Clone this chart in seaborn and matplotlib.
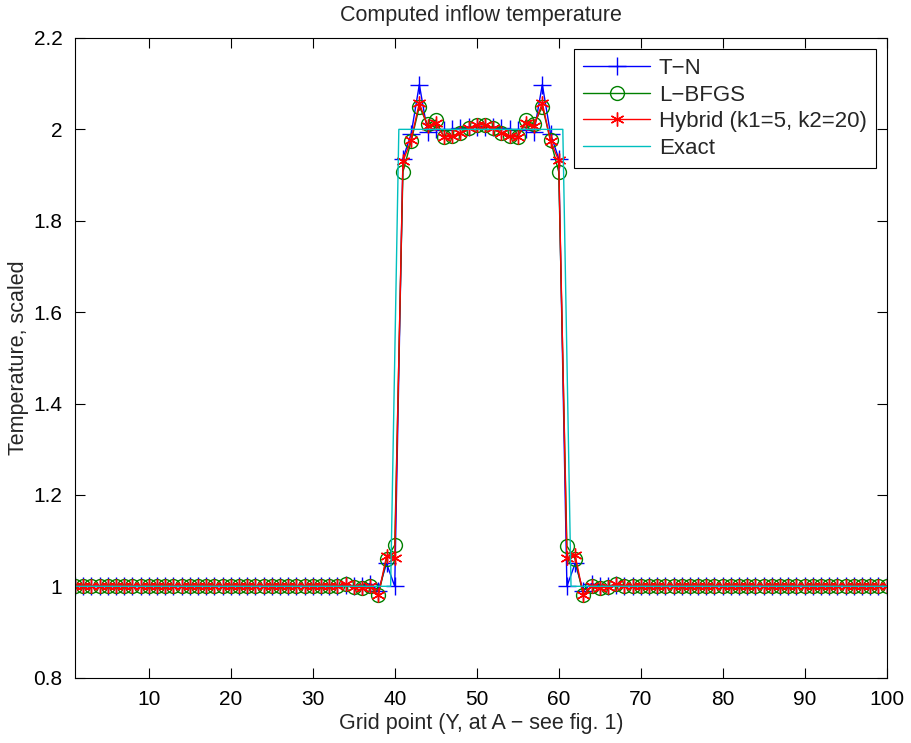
import matplotlib
matplotlib.use("Agg")
import matplotlib.pyplot as plt
import seaborn as sns
import numpy as np

grid = list(range(1, 101))

flat_left = [1.0] * 33
flat_right = [1.0] * 33

tn_mid = [1.002, 1.0, 1.0, 1.006, 0.99, 1.05, 1.0,
          1.936, 1.99, 2.098, 1.995, 2.0, 1.998, 2.0, 2.003, 2.005, 2.006,
          2.006, 2.005, 2.003, 2.0, 1.998, 2.0, 1.995, 2.098, 1.99, 1.936,
          1.0, 1.05, 0.99, 1.006, 1.0, 1.0, 1.002]
lbfgs_mid = [1.006, 0.998, 0.997, 1.0, 0.98, 1.06, 1.09,
             1.907, 1.974, 2.05, 2.011, 2.02, 1.984, 1.985, 1.992, 2.002, 2.01,
             2.01, 2.002, 1.992, 1.985, 1.984, 2.02, 2.011, 2.05, 1.976, 1.907,
             1.088, 1.06, 0.98, 1.0, 0.997, 0.998, 1.006]
hybrid_mid = [1.006, 0.998, 0.997, 1.0, 0.981, 1.066, 1.061,
              1.93, 1.977, 2.058, 2.007, 2.015, 1.983, 1.985, 1.992, 2.002, 2.01,
              2.01, 2.002, 1.992, 1.985, 1.983, 2.015, 2.008, 2.058, 1.974, 1.932,
              1.062, 1.068, 0.981, 1.0, 0.997, 0.998, 1.006]

tn = flat_left + tn_mid + flat_right
lbfgs = flat_left + lbfgs_mid + flat_right
hybrid = flat_left + hybrid_mid + flat_right

exact_x = [1, 39.5, 40.5, 60.5, 61.5, 100]
exact_y = [1, 1, 2, 2, 1, 1]

xticks = [10, 20, 30, 40, 50, 60, 70, 80, 90, 100]
yticks = [0.8, 1.0, 1.2, 1.4, 1.6, 1.8, 2.0, 2.2]
yticklabels = ["0.8", "1", "1.2", "1.4", "1.6", "1.8", "2", "2.2"]

sns.set_style("white")
plt.rcParams['font.family'] = ['Liberation Sans', 'DejaVu Sans']
plt.rcParams['font.size'] = 15

fig = plt.figure(figsize=(9.11, 7.43), dpi=100)
ax = fig.add_axes([0.0823, 0.0879, 0.891, 0.861])

BLUE = (0, 0, 1)
GREEN = (0, 0.5, 0)
RED = (1, 0, 0)
CYAN = (0, 0.75, 0.75)

common = dict(ax=ax, estimator=None, sort=False, linewidth=1.0)
sns.lineplot(x=grid, y=tn, color=BLUE, marker='+', markersize=13,
             markeredgewidth=1.0, markeredgecolor=BLUE, label="T−N", **common)
sns.lineplot(x=grid, y=lbfgs, color=GREEN, marker='o', markersize=10,
             markerfacecolor='none', markeredgecolor=GREEN,
             markeredgewidth=1.0, label="L−BFGS", **common)
sns.lineplot(x=grid, y=hybrid, color=RED, marker=(6, 2, 0), markersize=10,
             markeredgewidth=1.0, markeredgecolor=RED,
             label="Hybrid (k1=5, k2=20)", **common)
sns.lineplot(x=exact_x, y=exact_y, color=CYAN, label="Exact", **common)

ax.set_xlim(1, 100)
ax.set_ylim(0.8, 2.2)
ax.set_xticks(xticks)
ax.set_yticks(yticks)
ax.set_yticklabels(yticklabels)
ax.tick_params(direction='in', length=7, width=0.8, top=True, right=True,
               bottom=True, left=True, labelsize=15, pad=9, colors='black')
for s in ax.spines.values():
    s.set_visible(True)
    s.set_color('black')
    s.set_linewidth(0.8)

ax.set_title("Computed inflow temperature", fontsize=15.5, pad=12)
ax.set_xlabel("Grid point (Y, at A − see fig. 1)", fontsize=15.5, labelpad=3)
ax.set_ylabel("Temperature, scaled", fontsize=15.5, labelpad=3)

leg = ax.legend(loc='upper right', fancybox=False, edgecolor='black',
                framealpha=1, handlelength=3.0, fontsize=16,
                borderaxespad=0.5, labelspacing=0.25, handletextpad=0.4,
                borderpad=0.4)
leg.get_frame().set_linewidth(0.8)

fig.savefig("out.png", dpi=100)
